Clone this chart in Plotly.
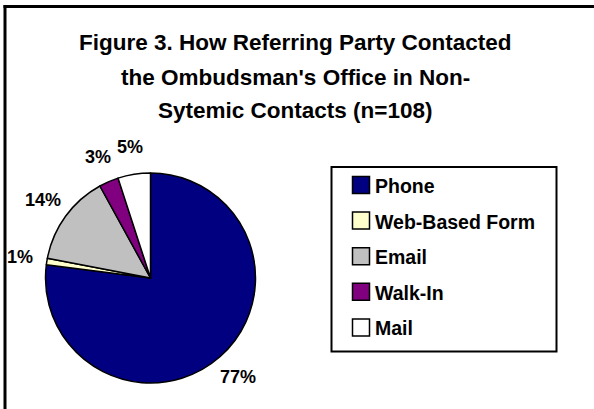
import math
import plotly.graph_objects as go

# ---- data ----
categories = ["Phone", "Web-Based Form", "Email", "Walk-In", "Mail"]
percents = [77, 1, 14, 3, 5]
colors = ["#000080", "#FFFFCC", "#C0C0C0", "#800080", "#FFFFFF"]
title_lines = [
    "Figure 3. How Referring Party Contacted",
    "the Ombudsman's Office in Non-",
    "Sytemic Contacts (n=108)",
]

W, H = 594, 409
FONT = "Liberation Sans, Arial, sans-serif"


def px(x):
    return x / W


def py(y):
    return 1 - y / H


# pie placement (pixels)
PIE_L, PIE_R, PIE_T, PIE_B = 45.5, 255.5, 173, 383
cx, cy0 = (PIE_L + PIE_R) / 2, (PIE_T + PIE_B) / 2
rad = (PIE_R - PIE_L) / 2

fig = go.Figure()
fig.add_trace(go.Pie(
    labels=categories,
    values=percents,
    sort=False,
    direction="clockwise",
    rotation=0,
    marker=dict(colors=colors, line=dict(color="black", width=1.5)),
    textinfo="none",
    domain=dict(x=[px(PIE_L), px(PIE_R)], y=[py(PIE_B), py(PIE_T)]),
    showlegend=False,
    hoverinfo="label+percent",
))

shapes = []
annotations = []

# percentage labels outside each slice, at the slice's mid-angle
total = sum(percents)
cum = 0
for v in percents:
    mid = (cum + v / 2) / total * 2 * math.pi
    cum += v
    lx = cx + 1.26 * rad * math.sin(mid)
    ly = cy0 - 1.26 * rad * math.cos(mid)
    annotations.append(dict(text=f"{round(v / total * 100)}%", xref="paper", yref="paper",
                            x=px(lx), y=py(ly), xanchor="center", yanchor="middle",
                            showarrow=False,
                            font=dict(family=FONT, size=18, color="black", weight="bold")))

# outer frame: only left and top edges are visible (cropped on right/bottom)
shapes.append(dict(type="line", xref="paper", yref="paper",
                   x0=px(5), x1=px(5), y0=0, y1=py(5),
                   line=dict(color="black", width=3)))
shapes.append(dict(type="line", xref="paper", yref="paper",
                   x0=px(3.5), x1=px(594), y0=py(6.5), y1=py(6.5),
                   line=dict(color="black", width=3)))

# title
title_y = [42, 77, 111]
for line, yy in zip(title_lines, title_y):
    annotations.append(dict(text=line, xref="paper", yref="paper",
                            x=px(295), y=py(yy), xanchor="center", yanchor="middle",
                            showarrow=False,
                            font=dict(family=FONT, size=22.5, color="black", weight="bold")))

# legend box
shapes.append(dict(type="rect", xref="paper", yref="paper",
                   x0=px(331.5), x1=px(556.5), y0=py(351.5), y1=py(167),
                   line=dict(color="black", width=2), fillcolor="white"))
row0, gap = 185, 35.6
for i, (lab, col) in enumerate(zip(categories, colors)):
    ry = row0 + i * gap
    shapes.append(dict(type="rect", xref="paper", yref="paper",
                       x0=px(352.5), x1=px(369.5), y0=py(ry + 8.5), y1=py(ry - 8.5),
                       line=dict(color="black", width=1.5), fillcolor=col))
    annotations.append(dict(text=lab, xref="paper", yref="paper",
                            x=px(373), y=py(ry + 1), xanchor="left", yanchor="middle",
                            showarrow=False,
                            font=dict(family=FONT, size=19.5, color="black", weight="bold")))

fig.update_layout(
    width=W, height=H,
    margin=dict(l=0, r=0, t=0, b=0),
    paper_bgcolor="white",
    plot_bgcolor="white",
    shapes=shapes,
    annotations=annotations,
    showlegend=False,
)

fig.write_html(
    "out.html",
    config={"displayModeBar": False},
    post_script="document.body.style.margin='0';document.body.style.overflow='hidden';",
)
